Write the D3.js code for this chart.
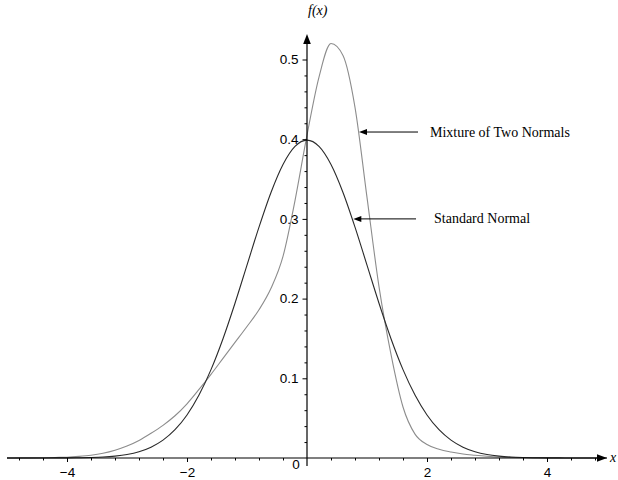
<!DOCTYPE html>
<html lang="en">
<head>
  <meta charset="UTF-8">
  <title>Standard Normal vs Mixture of Two Normals</title>
  <script src="https://d3js.org/d3.v7.min.js"></script>
</head>
<body style="margin: 0; background: #fff;">
<script>
  // x grid the curves were read at
  const xValues = [-5.0, -4.8, -4.6, -4.4, -4.2, -4.0, -3.8, -3.6, -3.4, -3.2,
    -3.0, -2.8, -2.6, -2.4, -2.2, -2.0, -1.8, -1.6, -1.4, -1.2,
    -1.0, -0.8, -0.6, -0.4, -0.2, 0.0, 0.2, 0.4, 0.6, 0.8,
    1.0, 1.2, 1.4, 1.6, 1.8, 2.0, 2.2, 2.4, 2.6, 2.8,
    3.0, 3.2, 3.4, 3.6, 3.8, 4.0, 4.2, 4.4, 4.6, 4.8, 5.0];

  // dark curve: standard normal
  const standardNormal = [0.0000, 0.0000, 0.0000, 0.0000, 0.0001, 0.0001, 0.0003, 0.0006, 0.0012, 0.0024,
    0.0044, 0.0079, 0.0136, 0.0224, 0.0355, 0.0540, 0.0790, 0.1109, 0.1497, 0.1942,
    0.2420, 0.2897, 0.3332, 0.3683, 0.3910, 0.3989, 0.3910, 0.3683, 0.3332, 0.2897,
    0.2420, 0.1942, 0.1497, 0.1109, 0.0790, 0.0540, 0.0355, 0.0224, 0.0136, 0.0079,
    0.0044, 0.0024, 0.0012, 0.0006, 0.0003, 0.0001, 0.0001, 0.0000, 0.0000, 0.0000, 0.0000];

  // light curve: mixture of two normals
  const mixture = [0.0000, 0.0001, 0.0002, 0.0004, 0.0007, 0.0010, 0.0020, 0.0035, 0.0060, 0.0098,
    0.0150, 0.0220, 0.0310, 0.0410, 0.0530, 0.0680, 0.0860, 0.1050, 0.1250, 0.1450,
    0.1650, 0.1860, 0.2130, 0.2530, 0.3230, 0.4050, 0.4780, 0.5200, 0.5050, 0.4400,
    0.3270, 0.2150, 0.1300, 0.0640, 0.0300, 0.0170, 0.0110, 0.0075, 0.0050, 0.0035,
    0.0022, 0.0012, 0.0007, 0.0004, 0.0002, 0.0001, 0.0000, 0.0000, 0.0000, 0.0000, 0.0000];

  const xMajorTicks = [-4, -2, 2, 4];
  const xMajorLabels = ["\u22124", "\u22122", "2", "4"];
  const xMinorTicks = [-4.8, -4.4, -3.6, -3.2, -2.8, -2.4, -1.6, -1.2, -0.8, -0.4,
    0.4, 0.8, 1.2, 1.6, 2.4, 2.8, 3.2, 3.6, 4.4, 4.8];
  const yMajorTicks = [0.1, 0.2, 0.3, 0.4, 0.5];
  const yMinorTicks = [0.02, 0.04, 0.06, 0.08, 0.12, 0.14, 0.16, 0.18,
    0.22, 0.24, 0.26, 0.28, 0.32, 0.34, 0.36, 0.38, 0.42, 0.44, 0.46, 0.48];

  // annotation labels: arrow tip, arrow tail, text start (data units)
  const notes = [
    { text: "Mixture of Two Normals", tip: [0.867, 0.409], tail: 1.85, textX: 2.05 },
    { text: "Standard Normal", tip: [0.772, 0.300], tail: 1.817, textX: 2.117 }
  ];

  const width = 618, height = 480;

  const svg = d3.select("body").append("svg")
    .attr("width", width)
    .attr("height", height)
    .style("display", "block");

  const x = d3.scaleLinear().domain([-5, 5]).range([7, 607]);
  const y = d3.scaleLinear().domain([0, 0.5]).range([458, 59.5]);

  const sansFont = "'Liberation Sans', Arial, Helvetica, sans-serif";
  const serifFont = "'Liberation Serif', 'Times New Roman', serif";

  // curves
  const line = d3.line()
    .x(d => x(d[0]))
    .y(d => y(d[1]))
    .curve(d3.curveMonotoneX);

  svg.append("path")
    .datum(xValues.map((v, i) => [v, mixture[i]]))
    .attr("fill", "none")
    .attr("stroke", "#8c8c8c")
    .attr("stroke-width", 1.1)
    .attr("d", line);

  svg.append("path")
    .datum(xValues.map((v, i) => [v, standardNormal[i]]))
    .attr("fill", "none")
    .attr("stroke", "#2a2a2a")
    .attr("stroke-width", 1.1)
    .attr("d", line);

  // x axis (ticks hang below the line)
  const xMinor = svg.append("g")
    .attr("transform", `translate(0,${y(0)})`)
    .call(d3.axisBottom(x).tickValues(xMinorTicks).tickSize(2.5).tickFormat(""));
  const xMajor = svg.append("g")
    .attr("transform", `translate(0,${y(0)})`)
    .call(d3.axisBottom(x).tickValues(xMajorTicks).tickSize(4).tickPadding(5)
      .tickFormat((d, i) => xMajorLabels[i]));
  [xMinor, xMajor].forEach(g => {
    g.select(".domain").remove();
    g.selectAll("line").attr("stroke", "#000");
  });
  xMajor.selectAll("text")
    .attr("fill", "#000")
    .style("font-family", sansFont)
    .style("font-size", "13.5px");

  // y axis (ticks to the left)
  const yMinor = svg.append("g")
    .attr("transform", `translate(${x(0)},0)`)
    .call(d3.axisLeft(y).tickValues(yMinorTicks).tickSize(2.5).tickFormat(""));
  const yMajor = svg.append("g")
    .attr("transform", `translate(${x(0)},0)`)
    .call(d3.axisLeft(y).tickValues(yMajorTicks).tickSize(4.5).tickPadding(4)
      .tickFormat(d3.format(".1f")));
  [yMinor, yMajor].forEach(g => {
    g.select(".domain").remove();
    g.selectAll("line").attr("stroke", "#000");
  });
  yMajor.selectAll("text")
    .attr("fill", "#000")
    .style("font-family", sansFont)
    .style("font-size", "13.5px");

  // axis lines with arrowheads
  svg.append("line")
    .attr("x1", x(-5)).attr("x2", x(5) - 4)
    .attr("y1", y(0)).attr("y2", y(0))
    .attr("stroke", "#000").attr("stroke-width", 1.2);
  svg.append("path")
    .attr("d", `M${x(5)},${y(0)} L${x(5) - 10},${y(0) - 3.8} L${x(5) - 10},${y(0) + 3.8} Z`)
    .attr("fill", "#000");

  svg.append("line")
    .attr("x1", x(0)).attr("x2", x(0))
    .attr("y1", y(0) + 8).attr("y2", 40)
    .attr("stroke", "#000").attr("stroke-width", 1.2);
  svg.append("path")
    .attr("d", `M${x(0)},34 L${x(0) - 3.8},44 L${x(0) + 3.8},44 Z`)
    .attr("fill", "#000");

  // origin label
  svg.append("text")
    .attr("x", x(0) - 11)
    .attr("y", y(0) + 11)
    .attr("text-anchor", "middle")
    .style("font-family", sansFont)
    .style("font-size", "13.5px")
    .text("0");

  // axis titles
  svg.append("text")
    .attr("x", x(0) + 1)
    .attr("y", 15)
    .style("font-family", serifFont)
    .style("font-style", "italic")
    .style("font-size", "14px")
    .text("f(x)");

  svg.append("text")
    .attr("x", 610)
    .attr("y", y(0) + 4)
    .style("font-family", serifFont)
    .style("font-style", "italic")
    .style("font-size", "14px")
    .text("x");

  // annotations
  notes.forEach(n => {
    const tx = x(n.tip[0]), ty = y(n.tip[1]);
    svg.append("line")
      .attr("x1", x(n.tail)).attr("x2", tx + 6)
      .attr("y1", ty).attr("y2", ty)
      .attr("stroke", "#000").attr("stroke-width", 1);
    svg.append("path")
      .attr("d", `M${tx},${ty} L${tx + 8},${ty - 3} L${tx + 8},${ty + 3} Z`)
      .attr("fill", "#000");
    svg.append("text")
      .attr("x", x(n.textX))
      .attr("y", ty + 4.5)
      .style("font-family", serifFont)
      .style("font-size", "14px")
      .text(n.text);
  });
</script>
</body>
</html>
